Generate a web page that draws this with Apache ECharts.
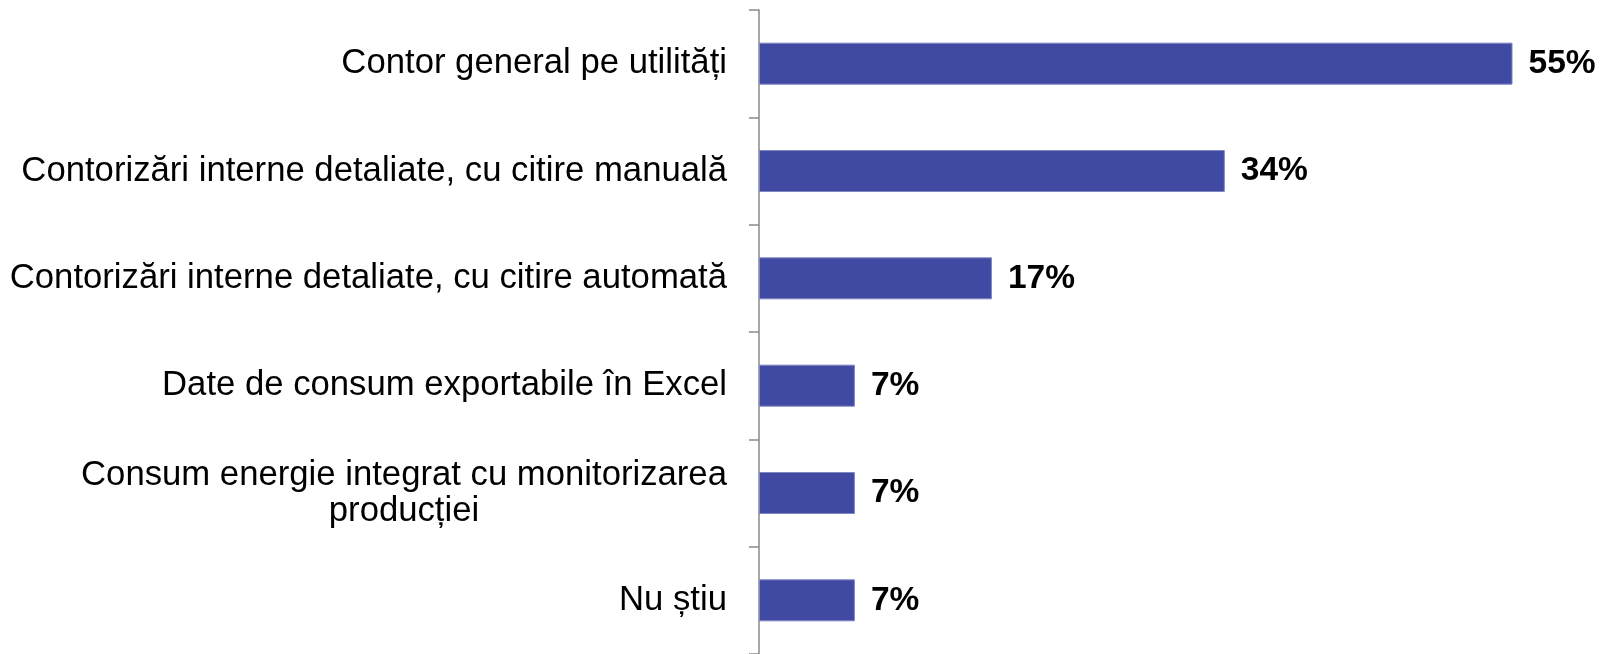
<!DOCTYPE html>
<html>
<head>
<meta charset="utf-8">
<script src="https://cdn.jsdelivr.net/npm/echarts@6/dist/echarts.min.js"></script>
<style>
  html, body { margin: 0; padding: 0; background: #fff; }
  #chart { width: 1602px; height: 654px; }
</style>
</head>
<body>
<div id="chart"></div>
<script>
const categories = [
  'Contor general pe utilități',
  'Contorizări interne detaliate, cu citire manuală',
  'Contorizări interne detaliate, cu citire automată',
  'Date de consum exportabile în Excel',
  'Consum energie integrat cu monitorizarea\nproducției',
  'Nu știu'
]
const values = [55, 34, 17, 7, 7, 7]

const FONT = 'Liberation Sans, Arial, sans-serif'
const LABEL_SIZE = 34.7

// latimea primului rand, ca al doilea rand sa fie centrat sub el
const ctx = document.createElement('canvas').getContext('2d')
ctx.font = LABEL_SIZE + 'px "Liberation Sans"'
const wrapWidth = Math.ceil(ctx.measureText('Consum energie integrat cu monitorizarea').width)

const chart = echarts.init(document.getElementById('chart'))
chart.setOption({
  animation: false,
  grid: { left: 759, right: 21, top: 10, bottom: -1, containLabel: false },
  xAxis: {
    type: 'value',
    min: 0,
    max: 60,
    show: false
  },
  yAxis: {
    type: 'category',
    inverse: true,
    data: categories,
    axisLine: { lineStyle: { color: '#8a8a8a', width: 1.5 } },
    axisTick: { show: true, length: 10, lineStyle: { color: '#8a8a8a', width: 1.5 } },
    axisLabel: {
      margin: 32,
      color: '#000',
      fontFamily: FONT,
      fontSize: LABEL_SIZE,
      lineHeight: 36,
      formatter: function (v) {
        if (v.indexOf('\n') < 0) return v
        return v.split('\n').map(s => '{c|' + s + '}').join('\n')
      },
      rich: {
        c: {
          width: wrapWidth,
          align: 'center',
          color: '#000',
          fontFamily: FONT,
          fontSize: LABEL_SIZE,
          lineHeight: 36
        }
      }
    }
  },
  series: [{
    type: 'bar',
    data: values,
    barWidth: 42,
    itemStyle: { color: '#404AA3', borderColor: '#7f86c4', borderWidth: 1 },
    label: {
      show: true,
      position: 'right',
      distance: 16,
      formatter: '{c}%',
      color: '#000',
      fontFamily: FONT,
      fontWeight: 'bold',
      fontSize: 33.5
    }
  }]
})
</script>
</body>
</html>
